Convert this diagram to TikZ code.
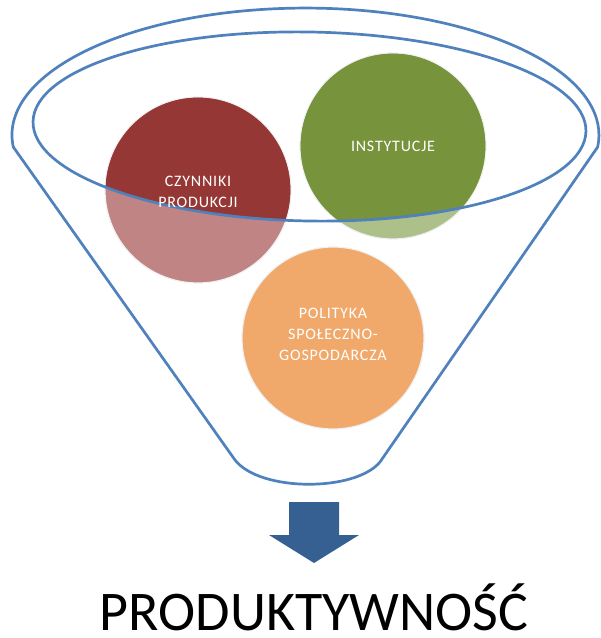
\documentclass[tikz,border=0pt]{standalone}
\usepackage{fontspec}
\setmainfont{Carlito}
\definecolor{funnel}{RGB}{79,129,189}
\definecolor{arrowblue}{RGB}{55,96,146}
\definecolor{reddark}{RGB}{149,55,53}
\definecolor{redlight}{RGB}{191,132,131}
\definecolor{greendark}{RGB}{119,147,60}
\definecolor{greenlight}{RGB}{173,192,138}
\definecolor{orangeball}{RGB}{240,169,106}
\definecolor{halo}{RGB}{240,240,242}
\begin{document}
\begin{tikzpicture}[x=1pt,y=-1pt,
  ball/.style={circle, inner sep=0pt, minimum size=186pt, draw=halo, line width=1.2pt},
  balltext/.style={text=white, font=\fontsize{16}{21}\selectfont\addfontfeatures{LetterSpace=5}, align=center, inner sep=0pt},
  funnelline/.style={draw=funnel, line width=2.7pt, line join=round}]
\useasboundingbox (0,0) rectangle (601,638);
% funnel outline
\coordinate (oc) at (305.5,135);
\coordinate (lk) at (13.3,147);
\coordinate (rk) at (597.7,147);
\coordinate (rb) at (380,462);
\coordinate (lb) at (235,460);
\draw[funnelline] (lk) arc[start angle=174.6, end angle=365.4, x radius=293.5, y radius=127]
  -- (rb) .. controls (355,492) and (260,492) .. (lb) -- cycle;
% balls (light parts)
\node[ball, fill=redlight] (redball) at (198,190) {};
\node[ball, fill=greenlight] (greenball) at (393,146) {};
\node[ball, fill=orangeball, minimum size=182pt] (orangeball) at (333,338) {};
% dark parts inside the inner rim
\begin{scope}
  \clip[rotate around={-1:(309.5,126.5)}] (309.5,126.5) ellipse[x radius=276.5, y radius=94.5];
  \fill[reddark] (redball.center) circle[radius=92.4];
  \fill[greendark] (greenball.center) circle[radius=92.4];
\end{scope}
% inner rim
\draw[funnelline, rotate around={-1:(309.5,126.5)}] (309.5,126.5) ellipse[x radius=276.5, y radius=94.5];
% labels
\node[balltext] (redtext) at (198,192) {CZYNNIKI\\PRODUKCJI};
\node[balltext] (greentext) at (393,146) {INSTYTUCJE};
\node[balltext] (orangetext) at (333,334) {POLITYKA\\SPOŁECZNO-\\GOSPODARCZA};
% arrow
\fill[arrowblue] (289,502) -- (339,502) -- (339,535) -- (359,535) -- (314,563) -- (269,535) -- (289,535) -- cycle;
\node[anchor=base, font=\fontsize{56}{60}\selectfont, inner sep=0pt, text depth=0pt] (result) at (314,630) {PRODUKTYWNOŚĆ};
\end{tikzpicture}
\end{document}
